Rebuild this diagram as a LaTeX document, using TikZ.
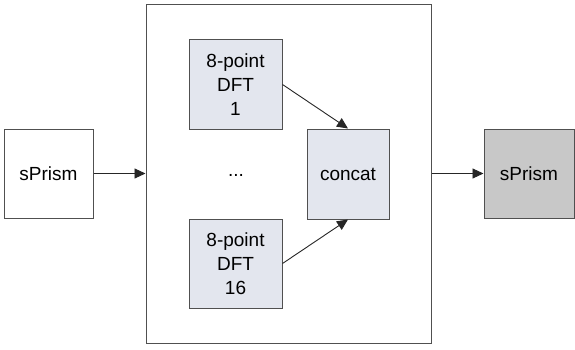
\documentclass[tikz,border=0pt]{standalone}
\usepackage{fontspec}
\setmainfont{Liberation Sans}
\usetikzlibrary{arrows.meta}
\definecolor{boxline}{HTML}{505050}
\definecolor{lightfill}{HTML}{E3E6EE}
\definecolor{darkfill}{HTML}{C8C8C8}
\tikzset{
  txt/.style={font=\fontsize{19}{24}\selectfont},
  blk/.style={draw=boxline, line width=1pt, minimum width=#1, align=center, inner sep=0pt, txt},
  conn/.style={draw=black!85, line width=0.9pt, -{Triangle[length=11pt,width=10pt]}},
}
\begin{document}
\begin{tikzpicture}[x=1pt,y=-1pt]
\useasboundingbox (0,0) rectangle (575,350);
\node[draw=boxline, line width=1pt, minimum width=285pt, minimum height=338pt, inner sep=0pt] (cont) at (288.5,174) {};
\node[blk=89pt, minimum height=89pt, fill=white] (in) at (48.5,173.5) {sPrism};
\node[blk=93pt, minimum height=89pt, fill=lightfill] (d1) at (235.5,84.5) {8-point\\DFT\\1};
\node[blk=93pt, minimum height=89pt, fill=lightfill] (d16) at (235.5,263.5) {8-point\\DFT\\16};
\node[blk=82pt, minimum height=90pt, fill=lightfill] (cc) at (348,174) {concat};
\node[txt] (dots) at (236,175) {...};
\node[blk=90pt, minimum height=89pt, fill=darkfill] (out) at (529,173.5) {sPrism};
\draw[conn] (in.east) -- (in.east -| cont.west);
\draw[conn] (cont.east |- out.west) -- (out.west);
\draw[conn] (d1.east) -- (cc.north);
\draw[conn] (d16.east) -- (cc.south);
\end{tikzpicture}
\end{document}
